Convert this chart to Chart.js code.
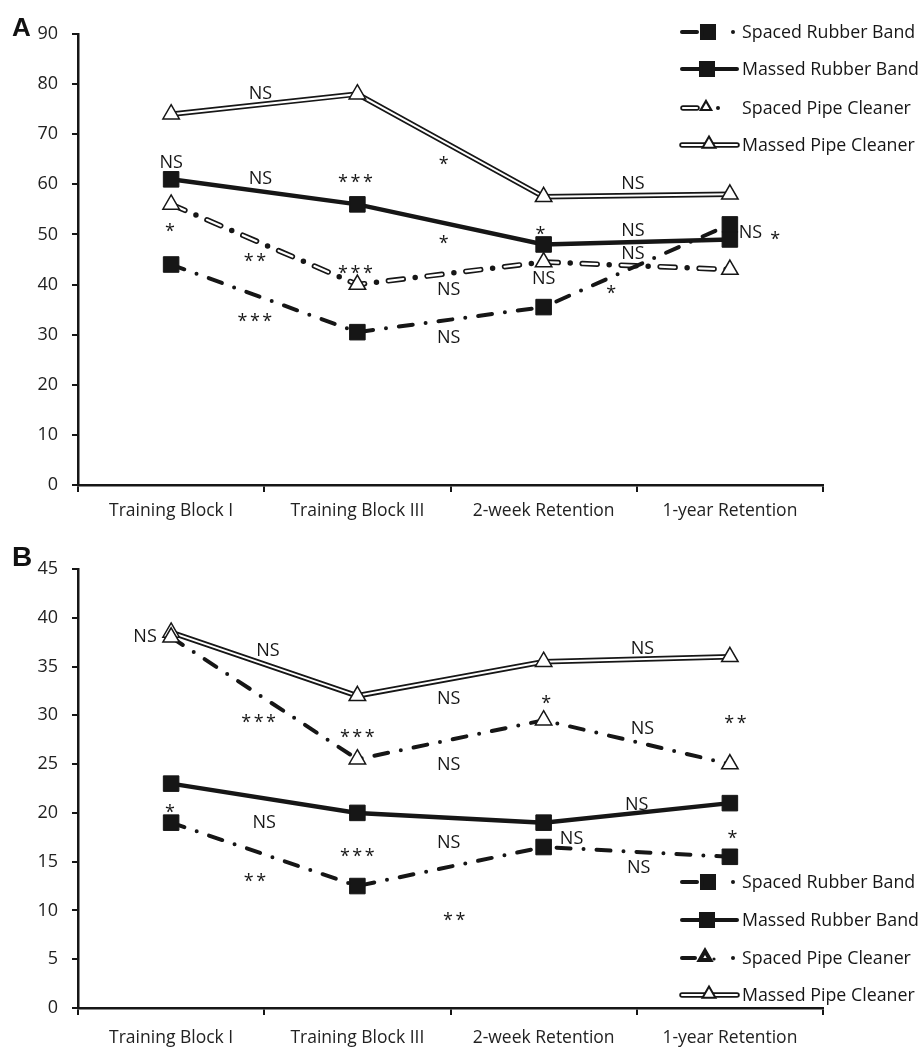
<!DOCTYPE html>
<html>
<head>
<meta charset="utf-8">
<script src="https://cdn.jsdelivr.net/npm/chart.js"></script>
<style>
  body { margin: 0; background: #fff; }
  #chartA { position: absolute; left: 0; top: 0; }
  #chartB { position: absolute; left: 0; top: 520px; }
</style>
</head>
<body>
<canvas id="chartA" width="923" height="520"></canvas>
<canvas id="chartB" width="923" height="527"></canvas>
<script>
// categories and values
const categories = ['Training Block I', 'Training Block III', '2-week Retention', '1-year Retention'];

const aSpacedRubber = [44, 30.5, 35.5, 52];
const aMassedRubber = [61, 56, 48, 49];
const aSpacedPipe = [56, 40, 44.5, 43];
const aMassedPipe = [74, 78, 57.5, 58];

const bSpacedRubber = [19, 12.5, 16.5, 15.5];
const bMassedRubber = [23, 20, 19, 21];
const bSpacedPipe = [38, 25.5, 29.5, 25];
const bMassedPipe = [38.5, 32, 35.5, 36];

const aAxis = [0, 90, 10];   // min, max, step
const bAxis = [0, 45, 5];

const legendLabels = ['Spaced Rubber Band', 'Massed Rubber Band', 'Spaced Pipe Cleaner', 'Massed Pipe Cleaner'];

// significance marks: [text, category position, value]
const aNotes = [
  ['NS', 0.48, 78.4], ['NS', 0, 64.5], ['NS', 0.48, 61.3], ['***', 0.99, 61.5],
  ['*', 1.47, 65], ['*', 0, 51.7], ['*', 1.47, 49.3], ['**', 0.45, 45.7],
  ['***', 0.99, 43.3], ['NS', 1.49, 39.3], ['***', 0.45, 33.7], ['NS', 1.49, 29.7],
  ['NS', 2.48, 60.3], ['*', 1.99, 51.1], ['NS', 2.48, 50.9], ['NS', 2.48, 46.3],
  ['NS', 2.0, 41.5], ['*', 2.37, 39.3], ['NS', 3.11, 50.5], ['*', 3.25, 50.1]
];
const bNotes = [
  ['NS', -0.14, 38.2], ['NS', 0.52, 36.7], ['***', 0.47, 29.8], ['***', 1.0, 28.3],
  ['NS', 1.49, 31.8], ['NS', 1.49, 25.1], ['*', 0, 20.6], ['NS', 0.5, 19.1],
  ['NS', 1.49, 17.1], ['***', 1.0, 16.1], ['**', 0.45, 13.5], ['**', 1.52, 9.5],
  ['NS', 2.53, 37.0], ['*', 2.02, 31.8], ['**', 3.03, 29.7], ['NS', 2.53, 28.8],
  ['NS', 2.5, 21.0], ['NS', 2.15, 17.5], ['*', 3.02, 18.0], ['NS', 2.51, 14.5]
];

const INK = '#161616';
const FONT = "'Open Sans', sans-serif";

function dashDot(data, withPoints) {
  return {
    data: data, borderColor: INK, borderWidth: 4, borderDash: [14, 13, 0, 13],
    borderCapStyle: 'round', fill: false, tension: 0,
    pointStyle: withPoints, pointRadius: withPoints === 'rect' ? 11 : 9.5,
    pointBackgroundColor: withPoints === 'rect' ? INK : '#fff',
    pointBorderColor: INK, pointBorderWidth: withPoints === 'rect' ? 1 : 1.5
  };
}

function buildDatasets(sr, mr, sp, mp, hollowSpacedPipe) {
  const sets = [];
  // massed pipe cleaner: double line (black outer + white inner)
  sets.push({ data: mp, borderColor: INK, borderWidth: 5.5, pointRadius: 0, tension: 0, order: 9 });
  sets.push({ data: mp, borderColor: '#fff', borderWidth: 2, tension: 0, order: 8,
    pointStyle: 'triangle', pointRadius: 9.5, pointBackgroundColor: '#fff',
    pointBorderColor: INK, pointBorderWidth: 1.5 });
  if (hollowSpacedPipe) {
    sets.push({ data: sp, borderColor: INK, borderWidth: 5.5, borderDash: [15, 12, 0, 12],
      borderCapStyle: 'round', pointRadius: 0, tension: 0, order: 7 });
    sets.push({ data: sp, borderColor: '#fff', borderWidth: 2.2, borderDash: [15, 24],
      borderCapStyle: 'round', tension: 0, order: 6,
      pointStyle: 'triangle', pointRadius: 9.5, pointBackgroundColor: '#fff',
      pointBorderColor: INK, pointBorderWidth: 1.5 });
  } else {
    sets.push(Object.assign(dashDot(sp, 'triangle'), { order: 6 }));
  }
  sets.push(Object.assign(dashDot(sr, 'rect'), { order: 4 }));
  sets.push({ data: mr, borderColor: INK, borderWidth: 4.5, tension: 0, order: 3,
    pointStyle: 'rect', pointRadius: 11, pointBackgroundColor: INK,
    pointBorderColor: INK, pointBorderWidth: 1 });
  return sets;
}

function marker(ctx, kind, x, y, r) {
  Chart.helpers.drawPoint(ctx, {
    pointStyle: kind, radius: r, borderWidth: kind === 'rect' ? 1 : 1.3
  }, x, y);
}

function dot(ctx, x, y, r) {
  ctx.beginPath();
  ctx.arc(x, y, r || 2, 0, Math.PI * 2);
  ctx.fillStyle = INK;
  ctx.fill();
}

function seg(ctx, x0, x1, y, w, color) {
  ctx.beginPath();
  ctx.lineCap = 'round';
  ctx.lineWidth = w;
  ctx.strokeStyle = color;
  ctx.moveTo(x0, y);
  ctx.lineTo(x1, y);
  ctx.stroke();
}

const extras = {
  id: 'extras',
  afterDraw(chart, args, opts) {
    const ctx = chart.ctx;
    const xs = chart.scales.x, ys = chart.scales.y;
    const step = xs.getPixelForValue(1) - xs.getPixelForValue(0);
    const fs = 18;
    ctx.save();
    // significance marks
    ctx.fillStyle = INK;
    ctx.textAlign = 'center';
    ctx.textBaseline = 'alphabetic';
    opts.notes.forEach(n => {
      const px = xs.getPixelForValue(0) + n[1] * step;
      const py = ys.getPixelForValue(n[2]);
      const star = n[0].indexOf('*') === 0;
      ctx.font = fs + 'px ' + FONT;
      ctx.letterSpacing = star ? '2.5px' : '0px';
      ctx.fillText(n[0], px + (star && n[0].length > 1 ? 1.2 : 0), py + (star ? 0.62 : 0.36) * fs);
    });
    ctx.letterSpacing = '0px';

    // panel letter
    ctx.textAlign = 'left';
    ctx.font = 'bold ' + opts.letterSize + "px 'Liberation Sans', Arial, sans-serif";
    ctx.fillStyle = '#111';
    ctx.fillText(opts.letter, 12, opts.letterY);

    // legend
    ctx.font = '17.8px ' + FONT;
    ctx.textBaseline = 'middle';
    opts.legendY.forEach((y, i) => {
      ctx.fillStyle = INK;
      ctx.fillText(legendLabels[i], 742, y + 1);
      if (i === 0) {
        seg(ctx, 682, 697, y, 4, INK);
        ctx.fillStyle = INK; ctx.strokeStyle = INK;
        marker(ctx, 'rect', 708, y, 8.5);
        dot(ctx, 733, y);
      } else if (i === 1) {
        seg(ctx, 682, 737, y, 4, INK);
        ctx.fillStyle = INK; ctx.strokeStyle = INK;
        marker(ctx, 'rect', 707, y, 8.5);
      } else if (i === 2) {
        if (opts.hollow) {
          seg(ctx, 683, 697, y, 5.5, INK);
          seg(ctx, 683, 697, y, 2.2, '#fff');
          ctx.fillStyle = '#fff'; ctx.strokeStyle = INK;
          marker(ctx, 'triangle', 706, y - 1, 6);
          dot(ctx, 718, y);
        } else {
          seg(ctx, 682, 695, y, 4, INK);
          ctx.fillStyle = '#fff'; ctx.strokeStyle = INK;
          marker(ctx, 'triangle', 705, y - 1, 6);
          dot(ctx, 714, y + 1, 1.6);
          dot(ctx, 733, y);
        }
      } else {
        seg(ctx, 682, 737, y, 5.5, INK);
        seg(ctx, 682, 737, y, 2, '#fff');
        ctx.fillStyle = '#fff'; ctx.strokeStyle = INK;
        marker(ctx, 'triangle', 709, y - 1, 7.5);
      }
    });
    ctx.restore();
  }
};

function makeChart(id, sets, axis, pad, xHeight, labelPad, extraOpts) {
  return new Chart(document.getElementById(id), {
    type: 'line',
    data: { labels: categories, datasets: sets },
    options: {
      responsive: false,
      animation: false,
      layout: { padding: pad },
      plugins: { legend: { display: false }, tooltip: { enabled: false }, extras: extraOpts },
      elements: { line: { fill: false } },
      scales: {
        x: {
          offset: true,
          grid: { offset: true, drawOnChartArea: false, tickLength: 7, color: INK, lineWidth: 2 },
          border: { color: INK, width: 2.5 },
          ticks: { color: '#222', font: { family: FONT, size: 17.5 }, padding: labelPad,
            maxRotation: 0, autoSkip: false },
          afterFit: s => { s.height = xHeight; }
        },
        y: {
          min: axis[0], max: axis[1],
          grid: { drawOnChartArea: false, tickLength: 6, color: INK, lineWidth: 2 },
          border: { color: INK, width: 2.5 },
          ticks: { stepSize: axis[2], color: '#222', font: { family: FONT, size: 18 }, padding: 14 },
          afterFit: s => { s.width = 78; }
        }
      }
    },
    plugins: [extras]
  });
}

makeChart('chartA', buildDatasets(aSpacedRubber, aMassedRubber, aSpacedPipe, aMassedPipe, true),
  aAxis, { left: 0, top: 34, right: 100, bottom: 0 }, 35, 9,
  { notes: aNotes, letter: 'A', letterSize: 26, letterY: 36, legendY: [32, 69, 108, 145], hollow: true });

makeChart('chartB', buildDatasets(bSpacedRubber, bMassedRubber, bSpacedPipe, bMassedPipe, false),
  bAxis, { left: 0, top: 49, right: 100, bottom: 0 }, 39, 13,
  { notes: bNotes, letter: 'B', letterSize: 28, letterY: 46, legendY: [362, 400, 438, 475], hollow: false });
</script>
</body>
</html>
